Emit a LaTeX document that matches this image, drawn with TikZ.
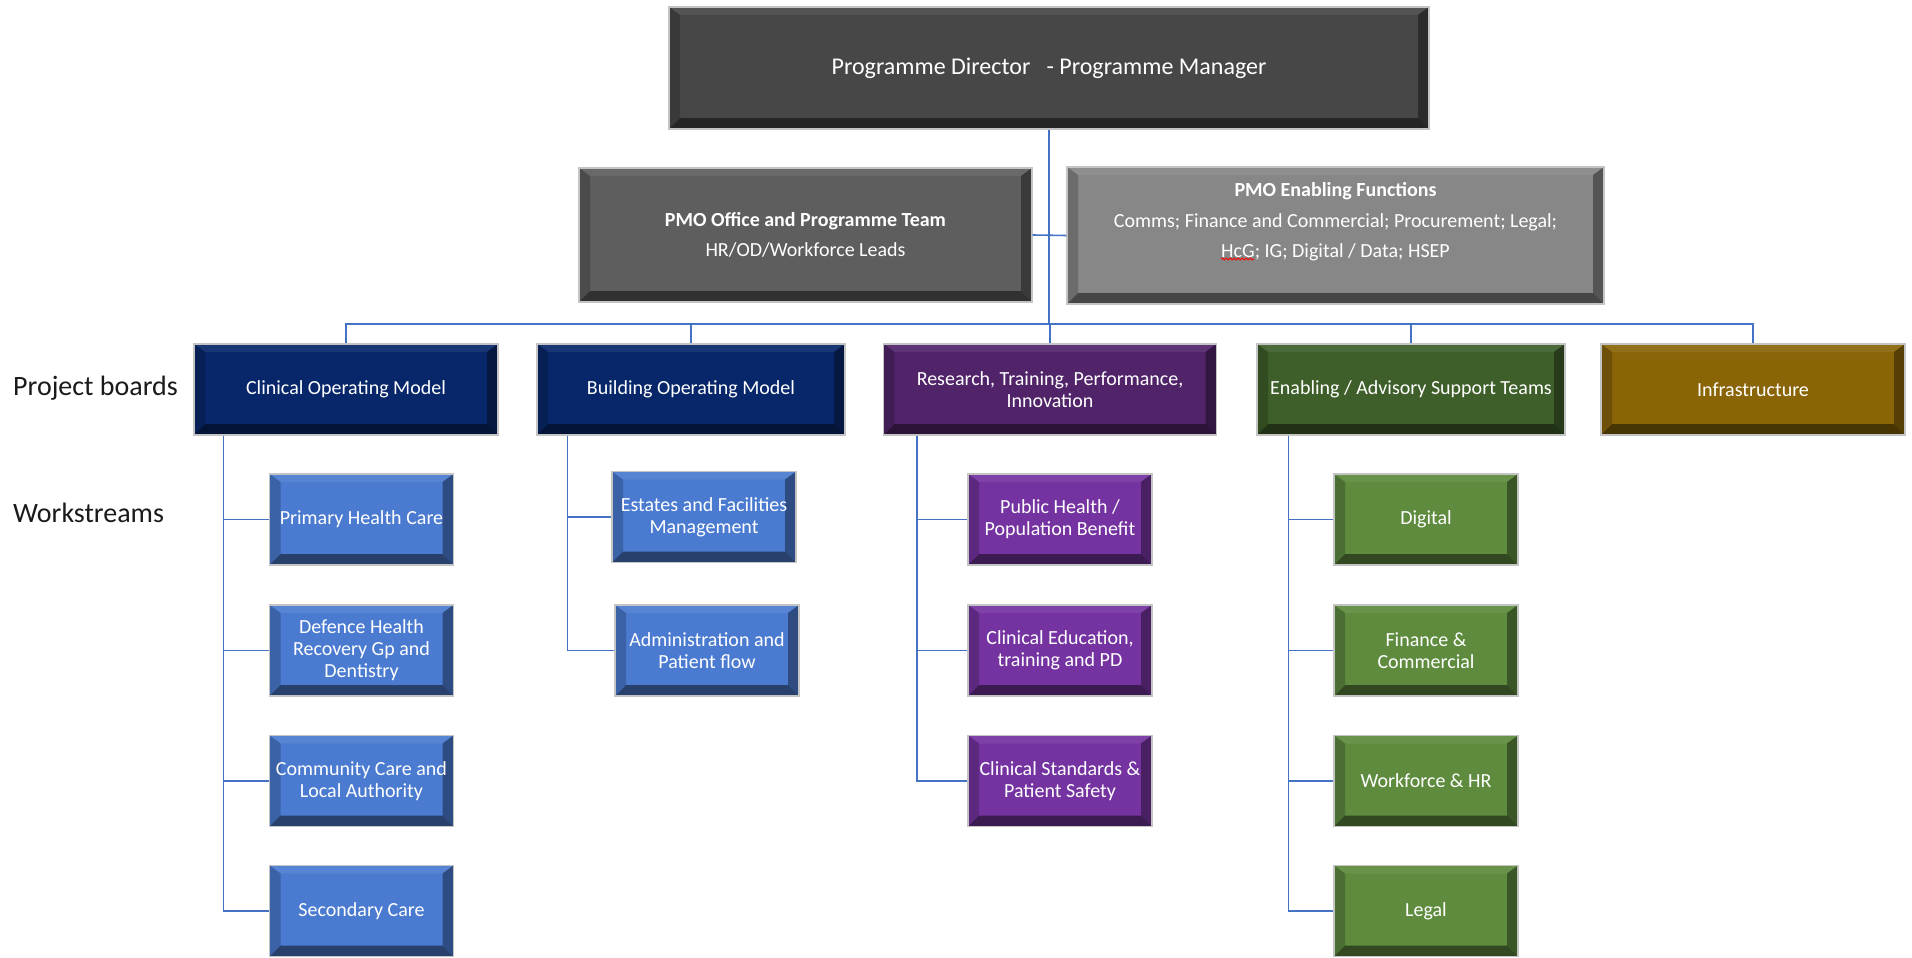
\documentclass[tikz,border=0pt]{standalone}
\usepackage{fontspec}
\setmainfont{Carlito}
\usetikzlibrary{decorations.pathmorphing}

\definecolor{topgray}{HTML}{474747}
\definecolor{officegray}{HTML}{5E5E5E}
\definecolor{enabgray}{HTML}{878787}
\definecolor{navy}{HTML}{08276A}
\definecolor{boardpurple}{HTML}{51246A}
\definecolor{boardgreen}{HTML}{3E5F2A}
\definecolor{boardgold}{HTML}{8A6508}
\definecolor{wsblue}{HTML}{4A7BD0}
\definecolor{wspurple}{HTML}{7433A0}
\definecolor{wsgreen}{HTML}{5E8B3E}
\definecolor{linkblue}{HTML}{4472C4}
\definecolor{rimgray}{HTML}{C4C4C4}
\definecolor{labelink}{HTML}{1A1A1A}

\tikzset{
  bevel/.style={rectangle, draw=rimgray, line width=1.2pt, fill=#1, text=white,
    align=center, inner sep=2pt, font=\fontsize{20}{22}\selectfont,
    path picture={
      % upper face of the bevel
      \fill[#1!93!white] (path picture bounding box.north west) -- (path picture bounding box.north east)
        -- ([xshift=-11pt,yshift=-8pt]path picture bounding box.north east)
        -- ([xshift=11pt,yshift=-8pt]path picture bounding box.north west) -- cycle;
      % left face
      \fill[#1!80!black] (path picture bounding box.north west)
        -- ([xshift=11pt,yshift=-8pt]path picture bounding box.north west)
        -- ([xshift=11pt,yshift=11pt]path picture bounding box.south west)
        -- (path picture bounding box.south west) -- cycle;
      % right face
      \fill[#1!62!black] (path picture bounding box.north east)
        -- ([xshift=-11pt,yshift=-8pt]path picture bounding box.north east)
        -- ([xshift=-11pt,yshift=11pt]path picture bounding box.south east)
        -- (path picture bounding box.south east) -- cycle;
      % lower face
      \fill[#1!52!black] (path picture bounding box.south west)
        -- ([xshift=11pt,yshift=11pt]path picture bounding box.south west)
        -- ([xshift=-11pt,yshift=11pt]path picture bounding box.south east)
        -- (path picture bounding box.south east) -- cycle;
    }},
  board/.style={bevel=#1, minimum height=91pt},
  work/.style={bevel=#1, minimum width=184pt, minimum height=91pt},
  link/.style={draw=linkblue, line width=1.6pt},
  rowlabel/.style={anchor=west, inner sep=0pt, text=labelink, font=\fontsize{28}{30}\selectfont},
}

\begin{document}
\begin{tikzpicture}[x=1pt, y=-1pt]
\fill[white] (0,0) rectangle (1912,958);
\useasboundingbox (0,0) rectangle (1912,958);

% programme leadership
\node[bevel=topgray, minimum width=760pt, minimum height=122pt, font=\fontsize{24}{26}\selectfont]
  (top) at (1049,68) {Programme Director~~~- Programme Manager};
\node[bevel=officegray, minimum width=453pt, minimum height=134pt, font=\fontsize{20}{30.5}\selectfont]
  (office) at (805.5,235) {\textbf{PMO Office and Programme Team}\\HR/OD/Workforce Leads};
\node[bevel=enabgray, minimum width=537pt, minimum height=137pt, font=\fontsize{20}{30.5}\selectfont]
  (pmoen) at (1335.5,235.5) {\textbf{PMO Enabling Functions}\\Comms; Finance and Commercial; Procurement; Legal;\\HcG; IG; Digital / Data; HSEP\\~};

% project boards
\node[board=navy, minimum width=304pt] (clin) at (346,389.5) {Clinical Operating Model};
\node[board=navy, minimum width=308pt] (bldg) at (691,389.5) {Building Operating Model};
\node[board=boardpurple, minimum width=333pt] (rsch) at (1050,389.5) {Research, Training, Performance,\\Innovation};
\node[board=boardgreen, minimum width=308pt] (enab) at (1411,389.5) {Enabling / Advisory Support Teams};
\node[board=boardgold, minimum width=304pt] (infra) at (1753,389.5) {Infrastructure};

% row captions
\node[rowlabel] (lblpb) at (13,388) {Project boards};
\node[rowlabel] (lblws) at (13,513) {Workstreams};

% workstreams under the clinical operating model
\node[work=wsblue] (c1) at (361.5,519.5) {Primary Health Care};
\node[work=wsblue] (c2) at (361.5,650.5) {Defence Health\\Recovery Gp and\\Dentistry};
\node[work=wsblue] (c3) at (361.5,781) {Community Care and\\Local Authority};
\node[work=wsblue] (c4) at (361.5,911) {Secondary Care};

% workstreams under the building operating model
\node[work=wsblue] (b1) at (704,517) {Estates and Facilities\\Management};
\node[work=wsblue] (b2) at (707,650.5) {Administration and\\Patient flow};

% workstreams under research and training
\node[work=wspurple] (r1) at (1060,519.5) {Public Health /\\Population Benefit};
\node[work=wspurple] (r2) at (1060,650.5) {Clinical Education,\\training and PD};
\node[work=wspurple] (r3) at (1060,781) {Clinical Standards \&\\Patient Safety};

% workstreams under the enabling teams
\node[work=wsgreen] (e1) at (1426,519.5) {Digital};
\node[work=wsgreen] (e2) at (1426,650.5) {Finance \&\\Commercial};
\node[work=wsgreen] (e3) at (1426,781) {Workforce \& HR};
\node[work=wsgreen] (e4) at (1426,911) {Legal};

% spell-check squiggle under HcG
\draw[red, line width=0.9pt, decorate, decoration={snake, amplitude=1pt, segment length=4pt}]
  ([xshift=-114.5pt,yshift=-23.5pt]pmoen.center) -- ([xshift=-81.5pt,yshift=-23.5pt]pmoen.center);

% connectors
\coordinate (bus) at (0,324);
\draw[link] (office.east) -- (pmoen.west);
\foreach \b in {clin,bldg,rsch,enab,infra}
  \draw[link] (top.south) -- (top.south |- bus) -| (\b.north);

\foreach \w in {c1,c2,c3,c4}
  \draw[link] ([xshift=30pt]clin.south west) |- (\w.west);
\foreach \w in {b1,b2}
  \draw[link] ([xshift=31pt]bldg.south west) |- (\w.west);
\foreach \w in {r1,r2,r3}
  \draw[link] ([xshift=34pt]rsch.south west) |- (\w.west);
\foreach \w in {e1,e2,e3,e4}
  \draw[link] ([xshift=32pt]enab.south west) |- (\w.west);
\end{tikzpicture}
\end{document}
